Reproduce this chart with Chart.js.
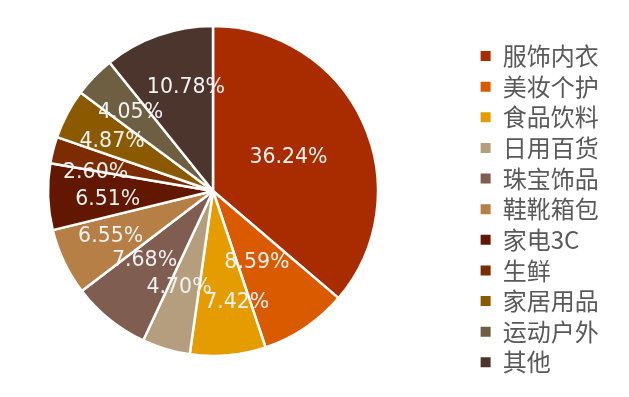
<!DOCTYPE html>
<html>
<head>
<meta charset="utf-8">
<script src="https://cdn.jsdelivr.net/npm/chart.js@4/dist/chart.umd.min.js"></script>
<style>
  html, body { margin: 0; padding: 0; background: #fff; }
  #wrap { position: relative; width: 629px; height: 397px; overflow: hidden; }
  /* canvas starts left of the page so the pie sits further left than Chart.js would put it */
  #inner { position: absolute; left: -48px; top: 0; width: 677px; height: 397px; }
</style>
</head>
<body>
<div id="wrap"><div id="inner"><canvas id="pieChart"></canvas></div></div>
<script>
// ── Data ─────────────────────────────────────────────────────────────────────
const CATEGORIES = [
  "服饰内衣", "美妆个护", "食品饮料", "日用百货", "珠宝饰品", "鞋靴箱包",
  "家电3C", "生鲜", "家居用品", "运动户外", "其他",
];
const SHARES = [36.24, 8.59, 7.42, 4.70, 7.68, 6.55, 6.51, 2.60, 4.87, 4.05, 10.78];

// ── Style ────────────────────────────────────────────────────────────────────
const COLORS = [
  "#a92c00", "#da5a00", "#e59c00", "#b59e7e", "#7f5d50", "#b57f45",
  "#621800", "#7d2b00", "#8a5900", "#6e5f42", "#4b352c",
];
// label placement inside each slice (fraction of radius, angular nudge in deg)
const LABEL_R     = [0.50, 0.51, 0.69, 0.62, 0.59, 0.68, 0.64, 0.72, 0.68, 0.69, 0.65];
const LABEL_SHIFT = [1, 2.6, -6.8, 2.8, 5.8, 1.3, -2.9, -5.6, -1.9, -0.3, 4.8];

// ── Percentage labels drawn on the slices ────────────────────────────────────
const sliceLabels = {
  id: "sliceLabels",
  afterDatasetsDraw(chart) {
    const ctx = chart.ctx;
    const meta = chart.getDatasetMeta(0);
    ctx.save();
    ctx.font = "20.5px 'DejaVu Sans', sans-serif";
    ctx.fillStyle = "#f2f2f2";
    ctx.textAlign = "center";
    ctx.textBaseline = "middle";
    meta.data.forEach((arc, i) => {
      const p = arc.getProps(["x", "y", "startAngle", "endAngle", "outerRadius"], true);
      const mid = (p.startAngle + p.endAngle) / 2 + LABEL_SHIFT[i] * Math.PI / 180;
      const r = p.outerRadius * LABEL_R[i];
      ctx.fillText(SHARES[i].toFixed(2) + "%", p.x + Math.cos(mid) * r, p.y + Math.sin(mid) * r);
    });
    ctx.restore();
  },
};

// ── Chart ────────────────────────────────────────────────────────────────────
// (padding values are kept binary-exact so the legend column fits without wrapping)
const ctx = document.getElementById("pieChart").getContext("2d");
new Chart(ctx, {
  type: "pie",
  data: {
    labels: CATEGORIES,
    datasets: [{
      data:            SHARES,
      backgroundColor: COLORS,
      borderColor:     "#ffffff",
      borderWidth:     2.5,
      radius:          165,
      clip:            false,
    }],
  },
  options: {
    responsive: true,
    maintainAspectRatio: false,
    animation: false,
    layout: { padding: { left: 0, right: 20.375, top: 1.125, bottom: 16.125 } },
    plugins: {
      tooltip: { enabled: false },
      legend: {
        position: "right",
        align: "end",
        labels: {
          color:     "#595959",
          font:      { family: "'Noto Sans CJK SC', 'DejaVu Sans', sans-serif", size: 24 },
          boxWidth:  10,
          boxHeight: 10,
          padding:   6.625,
          generateLabels: chart =>
            Chart.overrides.pie.plugins.legend.labels.generateLabels(chart)
              .map(item => Object.assign(item, { lineWidth: 0 })),
        },
      },
    },
  },
  plugins: [sliceLabels],
});
</script>
</body>
</html>
